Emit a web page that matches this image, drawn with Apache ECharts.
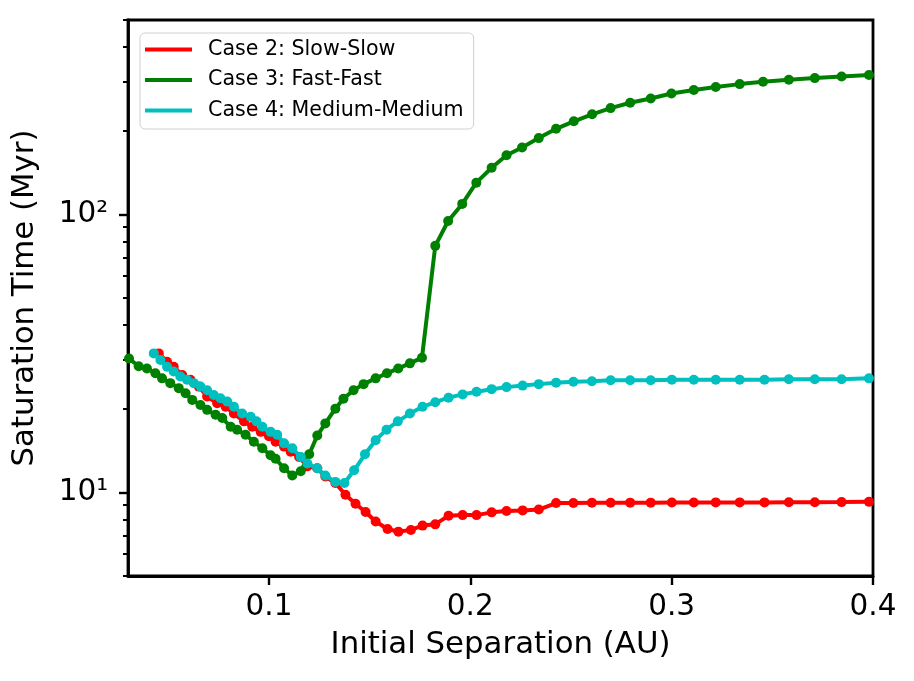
<!DOCTYPE html>
<html>
<head>
<meta charset="utf-8">
<script src="https://cdn.jsdelivr.net/npm/echarts@6/dist/echarts.min.js"></script>
<style>
  html, body { margin: 0; padding: 0; background: #fff; }
  #chart { width: 914px; height: 681px; }
</style>
</head>
<body>
<div id="chart"></div>
<script>
// Case 2: Slow-Slow
const case2X = [0.0453, 0.0494, 0.0527, 0.0569, 0.061, 0.0652, 0.0693, 0.0743, 0.0785, 0.0826, 0.0876, 0.0917, 0.0959, 0.1, 0.1033, 0.1075, 0.1108, 0.115, 0.119, 0.124, 0.128, 0.133, 0.138, 0.143, 0.148, 0.153, 0.1589, 0.1643, 0.1705, 0.1763, 0.1826, 0.1892, 0.1962, 0.2031, 0.2106, 0.218, 0.226, 0.234, 0.2426, 0.2512, 0.2604, 0.2697, 0.2794, 0.2896, 0.3001, 0.311, 0.3219, 0.3338, 0.3461, 0.3582, 0.3711, 0.3844, 0.398];
const case2Y = [31.6, 29.5, 28.3, 26.4, 25.4, 24.0, 22.1, 20.9, 20.3, 19.2, 18.0, 17.2, 16.5, 15.9, 15.2, 14.6, 14.0, 13.4, 12.4, 12.2, 11.4, 10.8, 9.8, 9.1, 8.5, 7.85, 7.38, 7.22, 7.32, 7.59, 7.67, 8.24, 8.28, 8.28, 8.47, 8.57, 8.61, 8.67, 9.15, 9.15, 9.17, 9.17, 9.18, 9.18, 9.19, 9.19, 9.2, 9.2, 9.2, 9.21, 9.21, 9.22, 9.24];

// Case 3: Fast-Fast
const case3X = [0.0305, 0.0353, 0.0394, 0.0436, 0.0469, 0.051, 0.0552, 0.0586, 0.0619, 0.066, 0.0693, 0.0735, 0.0768, 0.081, 0.0842, 0.0884, 0.0925, 0.0967, 0.1008, 0.1033, 0.1075, 0.1116, 0.1158, 0.12, 0.124, 0.128, 0.133, 0.137, 0.142, 0.147, 0.153, 0.1586, 0.1642, 0.170, 0.176, 0.1826, 0.189, 0.196, 0.203, 0.2106, 0.218, 0.2257, 0.234, 0.2426, 0.2514, 0.2605, 0.2697, 0.2794, 0.2896, 0.2999, 0.311, 0.3219, 0.3338, 0.3454, 0.3582, 0.3711, 0.3844, 0.398];
const case3Y = [30.3, 28.4, 27.9, 26.8, 25.7, 24.7, 23.7, 22.7, 21.5, 20.6, 19.8, 19.0, 18.5, 17.2, 16.8, 16.1, 15.2, 14.4, 13.6, 13.2, 12.2, 11.5, 11.9, 13.7, 16.0, 17.7, 20.0, 21.7, 23.3, 24.5, 25.7, 26.8, 27.9, 29.1, 30.5, 77, 94.6, 109, 130, 147, 163, 174, 188, 203, 216, 229, 241, 252, 261, 272, 280, 287, 294, 300, 305, 309, 313, 317];

// Case 4: Medium-Medium
const case4X = [0.0428, 0.0461, 0.0494, 0.0527, 0.056, 0.0593, 0.0627, 0.066, 0.0693, 0.0726, 0.0759, 0.0793, 0.0826, 0.0867, 0.0909, 0.0938, 0.0967, 0.1008, 0.1041, 0.1075, 0.1116, 0.1158, 0.1191, 0.124, 0.128, 0.133, 0.1375, 0.1423, 0.1477, 0.153, 0.1584, 0.164, 0.17, 0.1763, 0.1826, 0.1892, 0.1962, 0.2031, 0.2106, 0.218, 0.226, 0.234, 0.2426, 0.2512, 0.2604, 0.2697, 0.2794, 0.2896, 0.3001, 0.311, 0.3219, 0.3338, 0.3461, 0.3582, 0.3711, 0.3844, 0.398];
const case4Y = [31.6, 29.9, 28.3, 27.2, 26.1, 25.4, 24.7, 24.0, 23.3, 22.4, 21.8, 21.2, 20.3, 19.2, 18.7, 18.0, 17.2, 16.5, 16.1, 15.0, 14.4, 13.4, 12.7, 12.2, 11.5, 10.9, 10.8, 12.0, 13.7, 15.4, 16.8, 18.0, 19.2, 20.3, 21.1, 21.9, 22.5, 23.0, 23.5, 23.9, 24.2, 24.5, 24.8, 25.0, 25.1, 25.3, 25.3, 25.3, 25.4, 25.4, 25.4, 25.4, 25.4, 25.5, 25.5, 25.5, 25.7];

const xTicks = [0.1, 0.2, 0.3, 0.4];
const yMajorTicks = [10, 100];
const yMinorTicks = [5, 6, 7, 8, 9, 20, 30, 40, 50, 60, 70, 80, 90, 200, 300, 400, 500];
const yTickLabels = { 10: '10¹', 100: '10²' };

const seriesNames = ['Case 2: Slow-Slow', 'Case 3: Fast-Fast', 'Case 4: Medium-Medium'];
const seriesColors = ['#ff0000', '#008000', '#00bfbf'];

const font = 'DejaVu Sans';

function pairs(xs, ys) {
  return xs.map((x, i) => [x, ys[i]]);
}

const allData = [pairs(case2X, case2Y), pairs(case3X, case3Y), pairs(case4X, case4Y)];

const chart = echarts.init(document.getElementById('chart'), null, { renderer: 'canvas' });

const option = {
  animation: false,
  backgroundColor: '#fff',
  grid: {
    left: 128, right: 41, top: 20, bottom: 105,
    show: true, borderColor: '#000', borderWidth: 2.8, backgroundColor: 'transparent'
  },
  legend: {
    orient: 'vertical',
    left: 140, top: 33,
    icon: 'rect',
    itemWidth: 47, itemHeight: 4,
    itemGap: 9.5,
    padding: [6, 10, 8, 5],
    borderColor: '#d0d0d0', borderWidth: 1, borderRadius: 5,
    backgroundColor: 'rgba(255,255,255,0.85)',
    textStyle: { fontFamily: font, fontSize: 20.6, color: '#000', padding: [0, 0, 0, 11] },
    data: seriesNames
  },
  xAxis: {
    type: 'value',
    min: 0.03, max: 0.4,
    name: 'Initial Separation (AU)',
    nameLocation: 'middle',
    nameGap: 53,
    nameTextStyle: { fontFamily: font, fontSize: 30.8, color: '#000' },
    axisLine: { show: true, onZero: false, lineStyle: { color: '#000', width: 2.8 } },
    axisTick: { show: true, length: 9, customValues: xTicks, lineStyle: { color: '#000', width: 2.4 } },
    axisLabel: {
      customValues: xTicks,
      margin: 16,
      fontFamily: font, fontSize: 29.5, color: '#000',
      formatter: v => v.toFixed(1)
    },
    splitLine: { show: false }
  },
  yAxis: [
    {
      type: 'log',
      logBase: 10,
      min: 5, max: 500,
      name: 'Saturation Time (Myr)',
      nameLocation: 'middle',
      nameGap: 88,
      nameTextStyle: { fontFamily: font, fontSize: 30.8, color: '#000' },
      axisLine: { show: true, lineStyle: { color: '#000', width: 2.8 } },
      axisTick: { show: true, length: 9, customValues: yMajorTicks, lineStyle: { color: '#000', width: 2.4 } },
      axisLabel: {
        customValues: yMajorTicks,
        margin: 20,
        fontFamily: font, fontSize: 29.5, color: '#000',
        formatter: v => yTickLabels[Math.round(v)] || ''
      },
      splitLine: { show: false }
    },
    {
      type: 'log',
      logBase: 10,
      min: 5, max: 500,
      position: 'left',
      axisLine: { show: false },
      axisTick: { show: true, length: 5, customValues: yMinorTicks, lineStyle: { color: '#000', width: 2 } },
      axisLabel: { show: false },
      splitLine: { show: false }
    }
  ],
  series: allData.map((d, i) => ({
    name: seriesNames[i],
    type: 'line',
    yAxisIndex: 0,
    data: d,
    color: seriesColors[i],
    symbol: 'circle',
    symbolSize: 10,
    showSymbol: true,
    lineStyle: { width: 4, color: seriesColors[i] },
    itemStyle: { color: seriesColors[i] },
    z: 2 + i
  }))
};

chart.setOption(option);
window.addEventListener('resize', () => chart.resize());
</script>
</body>
</html>
